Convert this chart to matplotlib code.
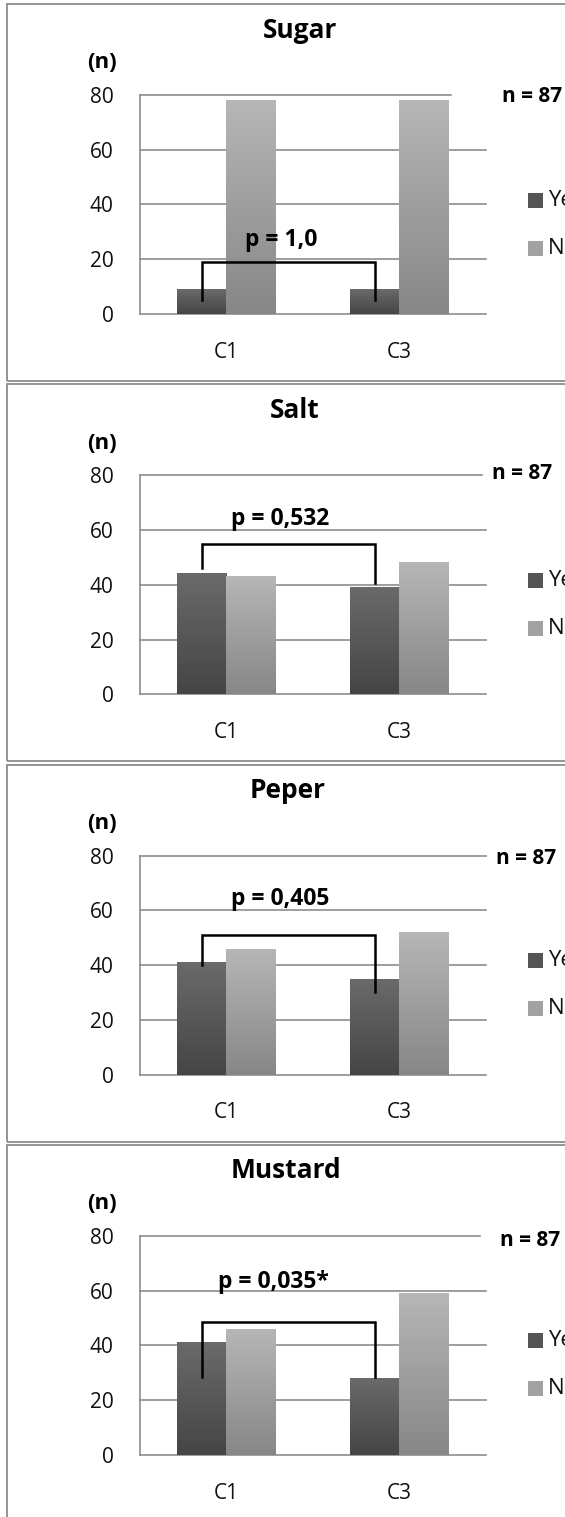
import numpy as np
import matplotlib.pyplot as plt
from matplotlib.colors import LinearSegmentedColormap
from matplotlib.patches import Rectangle

plt.rcParams['font.family'] = ['Open Sans', 'DejaVu Sans']

# data
foods = ['Sugar', 'Salt', 'Peper', 'Mustard']
groups = ['C1', 'C3']
series = ['Yes', 'No']
yes_counts = [[9, 9], [44, 39], [41, 35], [41, 28]]
no_counts = [[78, 78], [43, 48], [46, 52], [46, 59]]
p_labels = ['p = 1,0', 'p = 0,532', 'p = 0,405', 'p = 0,035*']
n_label = 'n = 87'
yticks = [0, 20, 40, 60, 80]

# layout of each panel (pixels / data units)
# bracket: top, left leg end, right leg end, text x, text y
brackets = [(19, 5, 5, 0.32, 27), (55, 46, 40.5, 0.31, 64),
            (51, 40, 30, 0.31, 64), (48.5, 28.5, 28.5, 0.27, 63)]
title_x = [300, 295, 288, 286]
nlab_pos = [(502, 97), (492, 93), (496, 98), (500, 100)]
top_grid = [0.90, 0.99, 1.0, 0.985]

W, H = 565, 1517
STEP = 380.3
fig = plt.figure(figsize=(W / 100, H / 100), dpi=100)


def fx(x):
    return x / W


def fy(y):
    return 1 - y / H


yes_cmap = LinearSegmentedColormap.from_list('yes', ['#454545', '#6a6a6a'])
no_cmap = LinearSegmentedColormap.from_list('no', ['#878787', '#b6b6b6'])
grad = np.linspace(0, 1, 256).reshape(-1, 1)
gridc = '#8e8e8e'

for i, food in enumerate(foods):
    off = STEP * i
    # panel frame
    fig.patches.append(Rectangle((fx(7), fy(off + 381)), 1.0, 377 / H,
                                 transform=fig.transFigure, fill=False,
                                 ec='#8c8c8c', lw=1.3))

    y0 = 314 + off
    y80 = 95 + off
    ax = fig.add_axes([fx(140), fy(y0), 345.5 / W, (y0 - y80) / H])
    x = np.arange(len(groups))
    w = 0.285
    b1 = ax.bar(x - w / 2, yes_counts[i], w, color='none', zorder=3)
    b2 = ax.bar(x + w / 2, no_counts[i], w, color='none', zorder=3)
    for bars, cmap in ((b1, yes_cmap), (b2, no_cmap)):
        for r in bars:
            x0, h = r.get_x(), r.get_height()
            ax.imshow(grad, cmap=cmap, origin='lower', aspect='auto',
                      extent=[x0, x0 + r.get_width(), 0, h], zorder=3)
    ax.set_xlim(-0.5, 1.5)
    ax.set_ylim(0, 80)

    for t in yticks:
        ax.axhline(t, xmax=top_grid[i] if t == 80 else 1, color=gridc,
                   lw=1.2, zorder=1, clip_on=False)
    for s in ['top', 'right', 'bottom']:
        ax.spines[s].set_visible(False)
    ax.spines['left'].set_color(gridc)
    ax.spines['left'].set_linewidth(1.2)

    ax.set_yticks(yticks)
    ax.set_xticks(x, groups)
    ax.tick_params(axis='y', length=0, labelsize=15, pad=19, labelcolor='#111111')
    ax.tick_params(axis='x', length=0, labelsize=15, pad=20, labelcolor='#111111')

    top, le, re, tx, ty = brackets[i]
    xl, xr = x[0] - w / 2, x[1] - w / 2
    ax.plot([xl, xl, xr, xr], [le, top, top, re], color='black', lw=1.8,
            zorder=4, solid_joinstyle='miter')
    ax.text(tx, ty, p_labels[i], ha='center', va='center', fontsize=16.5,
            fontweight='bold', zorder=5)

    fig.text(fx(title_x[i]), fy(off + 30), food, ha='center', va='center',
             fontsize=19, fontweight='bold')
    fig.text(fx(102), fy(off + 63), '(n)', ha='center', va='center',
             fontsize=16, fontweight='bold')
    nx, ny = nlab_pos[i]
    fig.text(fx(nx), fy(off + ny), n_label, ha='left', va='center',
             fontsize=15, fontweight='bold')

    # legend (cut by the right edge, as in the reference)
    for k, (lab, col) in enumerate(zip(series, ['#555555', '#a2a2a2'])):
        cy = off + 200 + 48 * k
        fig.patches.append(Rectangle((fx(528), fy(cy + 7.5)), 15 / W, 15 / H,
                                     transform=fig.transFigure, fc=col, ec='none'))
        fig.text(fx(548), fy(cy), lab, ha='left', va='center', fontsize=16,
                 color='#111111')

fig.savefig('out.png', dpi=100)
